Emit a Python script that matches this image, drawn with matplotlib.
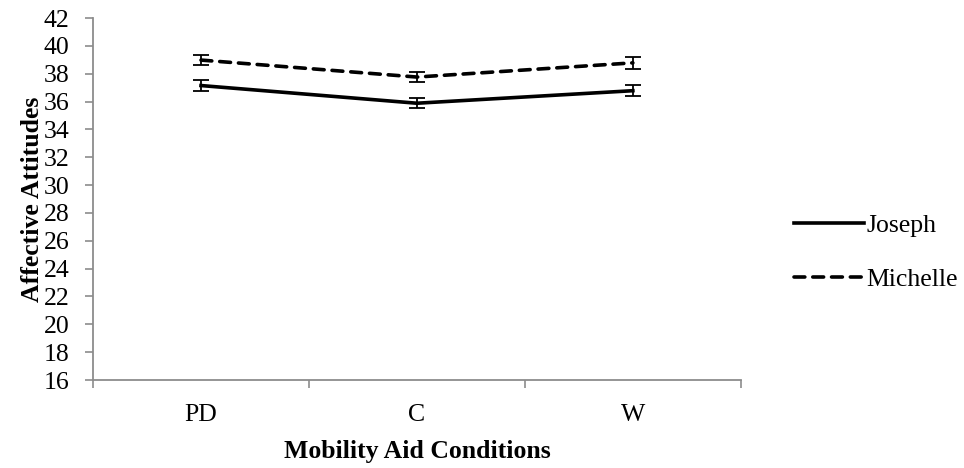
import matplotlib
matplotlib.use("Agg")
import matplotlib.pyplot as plt
from matplotlib.ticker import FixedLocator

plt.rcParams['font.family'] = ['Liberation Serif', 'DejaVu Serif']

conditions = ["PD", "C", "W"]
joseph = [37.15, 35.88, 36.78]
joseph_err = [0.38, 0.37, 0.40]
michelle = [38.98, 37.76, 38.78]
michelle_err = [0.37, 0.36, 0.42]

fig = plt.figure(figsize=(9.64, 4.68), dpi=100)
ax = fig.add_axes([0.0965, 0.188, 0.672, 0.7735])

x = list(range(1, len(conditions) + 1))

ax.errorbar(x, joseph, yerr=joseph_err, color="black", lw=2.6,
            elinewidth=1.3, capsize=5.8, capthick=1.3, label="Joseph")
ax.errorbar(x, michelle, yerr=michelle_err, color="black", lw=2.6,
            linestyle=(0, (3.0, 2.2)), dash_capstyle="round",
            elinewidth=1.3, capsize=5.8, capthick=1.3, label="Michelle")

ax.set_xlim(0.5, len(conditions) + 0.5)
ax.set_ylim(16, 42)
ax.set_yticks(range(16, 43, 2))
ax.set_xticks(x)
ax.set_xticklabels(conditions)
ax.xaxis.set_minor_locator(FixedLocator([0.5, 1.5, 2.5, 3.5]))
ax.tick_params(axis="x", which="major", length=0, labelsize=18.5, pad=17)
ax.tick_params(axis="x", which="minor", length=6, width=1.2, color="#8c8c8c",
               direction="out")
ax.tick_params(axis="y", length=6, width=1.2, color="#8c8c8c", labelsize=18.5,
               pad=11)

for s in ["top", "right"]:
    ax.spines[s].set_visible(False)
for s in ["left", "bottom"]:
    ax.spines[s].set_color("#8c8c8c")
    ax.spines[s].set_linewidth(1.3)

ax.set_xlabel("Mobility Aid Conditions", fontsize=18.5, fontweight="bold",
              labelpad=10)
ax.set_ylabel("Affective Attitudes", fontsize=18.5, fontweight="bold",
              labelpad=0)

handles, labels = ax.get_legend_handles_labels()
handles = [h[0] for h in handles]
fig.legend(handles, labels, loc="center left", bbox_to_anchor=(0.8, 0.46),
           frameon=False, fontsize=18.5, handlelength=2.7, handletextpad=0.1,
           labelspacing=1.2)

fig.savefig("out.png", dpi=100)
